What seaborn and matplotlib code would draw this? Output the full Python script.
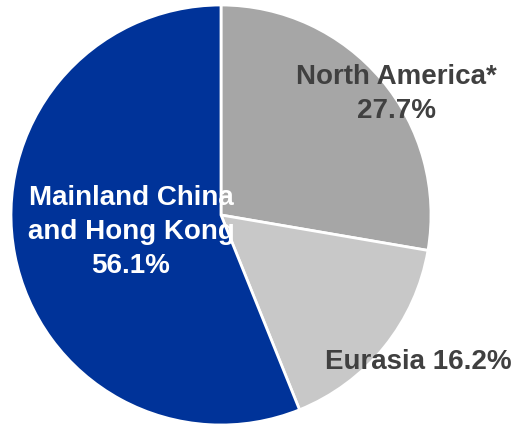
import matplotlib
matplotlib.use("Agg")
import matplotlib.pyplot as plt
import seaborn as sns

# Data
regions = ["North America*", "Eurasia", "Mainland China\nand Hong Kong"]
shares = [27.7, 16.2, 56.1]
colors = ["#A6A6A6", "#C8C8C8", "#003399"]

sns.set_theme(style="white")
plt.rcParams["font.family"] = ["Liberation Sans", "DejaVu Sans"]

W, H = 518, 426
fig = plt.figure(figsize=(W / 100, H / 100), dpi=100)
ax = fig.add_axes([0, 0, 1, 1])

cx, cy, r = 221, H - 215, 210
ax.pie(shares, colors=colors, startangle=90, counterclock=False,
       center=(cx, cy), radius=r,
       wedgeprops=dict(edgecolor="white", linewidth=2))
ax.set_xlim(0, W)
ax.set_ylim(0, H)
ax.set_aspect("equal")
ax.axis("off")

# Labels
ax.text(396, H - 94, f"{regions[0]}\n{shares[0]}%", ha="center", va="center",
        fontsize=20, fontweight="bold", color="#404040", linespacing=1.38)
ax.text(418, H - 362, f"{regions[1]} {shares[1]}%", ha="center", va="center",
        fontsize=20, fontweight="bold", color="#404040")
ax.text(131, H - 232, f"{regions[2]}\n{shares[2]}%", ha="center", va="center",
        fontsize=20, fontweight="bold", color="white", linespacing=1.38)

fig.savefig("out.png", dpi=100)
